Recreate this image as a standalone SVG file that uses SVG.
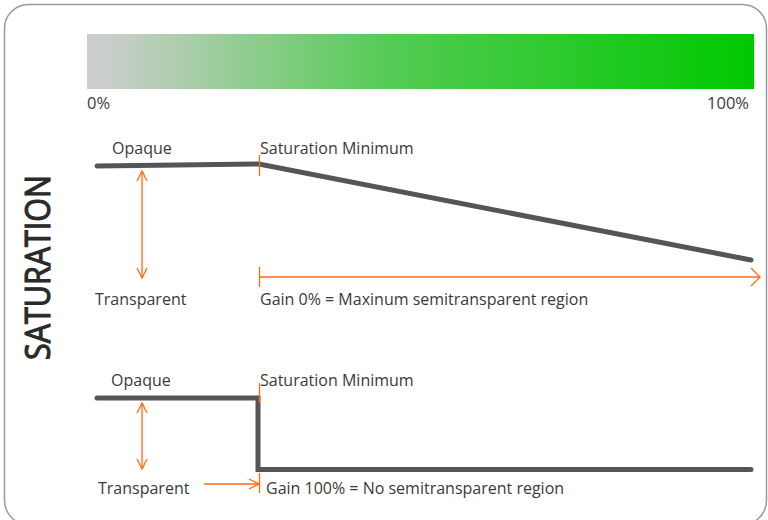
<svg xmlns="http://www.w3.org/2000/svg" width="768" height="520" viewBox="0 0 768 520">
<defs>
<linearGradient id="sat" x1="0" y1="0" x2="1" y2="0">
<stop offset="0" stop-color="#cccccc"/>
<stop offset="0.04" stop-color="#c8cec8"/>
<stop offset="0.45" stop-color="#55cb55"/>
<stop offset="1" stop-color="#00c800"/>
</linearGradient>
<marker id="ah" viewBox="0 0 12 12" refX="11" refY="6" markerWidth="12" markerHeight="12" markerUnits="userSpaceOnUse" orient="auto-start-reverse">
<path d="M1,1 L11,6 L1,11" fill="none" stroke="#ff6a10" stroke-width="1.3"/>
</marker>
<marker id="ahb" viewBox="0 0 20 20" refX="19" refY="10" markerWidth="20" markerHeight="20" markerUnits="userSpaceOnUse" orient="auto">
<path d="M10,1 L19,10 L10,19" fill="none" stroke="#ff6a10" stroke-width="1.3"/>
</marker>
</defs>
<style>
text{font-family:"Open Sans","Liberation Sans",sans-serif;font-size:16px;fill:#3a3a3a}
.curve{fill:none;stroke:#555555;stroke-width:5;stroke-linecap:round;stroke-linejoin:miter}
.or{fill:none;stroke:#ff6a10;stroke-width:1.3}
</style>
<rect x="4.5" y="4.5" width="762" height="520" rx="24" ry="24" fill="#ffffff" stroke="#9a9a9a" stroke-width="1.5"/>
<g id="scale">
<rect x="87" y="34" width="667" height="55" fill="url(#sat)"/>
<text x="87" y="109" style="font-size:16.5px">0%</text>
<text x="749" y="109" text-anchor="end" style="font-size:16.5px">100%</text>
</g>
<g id="title">
<text transform="translate(50,267.5) rotate(-90)" text-anchor="middle" style="font-size:34px;fill:#2a2a2a;stroke:#2a2a2a;stroke-width:1.1" textLength="185" lengthAdjust="spacingAndGlyphs">SATURATION</text>
</g>
<g id="graph-gain0">
<text x="112" y="154">Opaque</text>
<text x="260" y="154">Saturation Minimum</text>
<text x="95" y="305">Transparent</text>
<text x="260" y="305">Gain 0% = Maxinum semitransparent region</text>
<polyline class="curve" points="97,166 259,164 751,260"/>
</g>
<g id="graph-gain100">
<text x="111" y="386">Opaque</text>
<text x="260" y="386">Saturation Minimum</text>
<text x="98" y="494">Transparent</text>
<text x="266" y="494">Gain 100% = No semitransparent region</text>
<polyline class="curve" points="97,398 258,398 258,469.5 751,469.5"/>
</g>
<g id="connectors">
<line class="or" x1="259.5" y1="155" x2="259.5" y2="176"/>
<line class="or" x1="142" y1="171" x2="142" y2="278" marker-start="url(#ah)" marker-end="url(#ah)"/>
<line class="or" x1="259.5" y1="267" x2="259.5" y2="287"/>
<line class="or" x1="259.5" y1="277" x2="760" y2="277" marker-end="url(#ahb)"/>
<line class="or" x1="259.5" y1="383" x2="259.5" y2="403"/>
<line class="or" x1="142" y1="403" x2="142" y2="469" marker-start="url(#ah)" marker-end="url(#ah)"/>
<line class="or" x1="259.5" y1="473" x2="259.5" y2="493"/>
<line class="or" x1="204" y1="484" x2="259" y2="484" marker-end="url(#ah)"/>
</g>
</svg>
